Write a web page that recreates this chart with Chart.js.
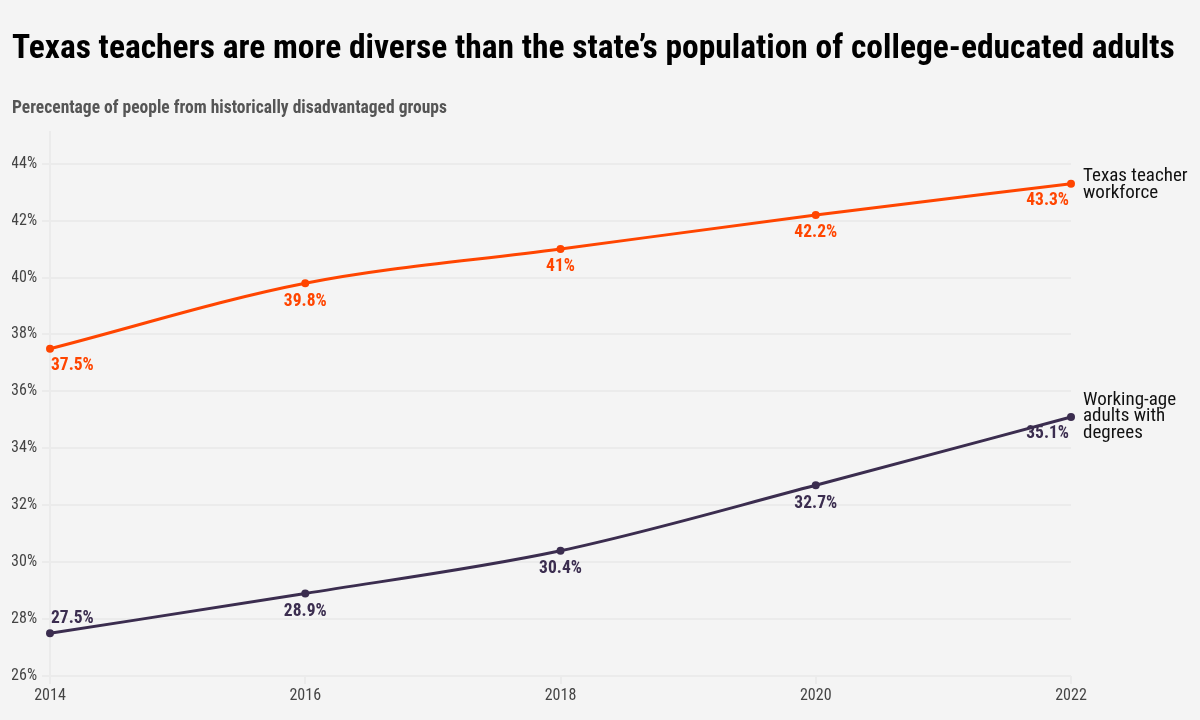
<!DOCTYPE html>
<html>
<head>
<meta charset="utf-8">
<script src="https://cdn.jsdelivr.net/npm/chart.js@4.4.1/dist/chart.umd.min.js"></script>
<style>
  html, body { margin: 0; padding: 0; background: #f4f4f4; }
  #wrap { width: 1200px; height: 720px; position: relative; }
</style>
</head>
<body>
<div id="wrap"><canvas id="c" width="1200" height="720"></canvas></div>
<script>
const years = ['2014', '2016', '2018', '2020', '2022'];
const teacherValues = [37.5, 39.8, 41, 42.2, 43.3];
const adultValues = [27.5, 28.9, 30.4, 32.7, 35.1];
const teacherName = ['Texas teacher', 'workforce'];
const adultName = ['Working-age', 'adults with', 'degrees'];
const titleText = 'Texas teachers are more diverse than the state\u2019s population of college-educated adults';
const subtitleText = 'Perecentage of people from historically disadvantaged groups';

const FONT = "'Roboto Condensed', 'Liberation Sans Narrow', 'Arial Narrow', sans-serif";
const ORANGE = '#ff4500';
const PURPLE = '#3b2d4f';

// label placements: 'below', 'below-right', 'below-left', 'above-right'
const teacherPlace = ['below-right', 'below', 'below', 'below', 'below-left'];
const adultPlace = ['above-right', 'below', 'below', 'below', 'below-left'];

const textPlugin = {
  id: 'texts',
  afterDraw(chart) {
    const ctx = chart.ctx;
    ctx.save();
    // title
    ctx.fillStyle = '#000';
    ctx.textBaseline = 'alphabetic';
    ctx.textAlign = 'left';
    ctx.font = `bold 33.5px ${FONT}`;
    ctx.fillText(titleText, 12, 58);
    ctx.fillStyle = '#555';
    ctx.font = `bold 17.5px ${FONT}`;
    ctx.fillText(subtitleText, 12, 113);

    // data labels
    const sets = [
      { idx: 0, vals: teacherValues, place: teacherPlace, color: ORANGE, name: teacherName, nameY: -7 },
      { idx: 1, vals: adultValues, place: adultPlace, color: PURPLE, name: adultName, nameY: -17 }
    ];
    sets.forEach(s => {
      const meta = chart.getDatasetMeta(s.idx);
      ctx.fillStyle = s.color;
      ctx.font = `bold 17.5px ${FONT}`;
      ctx.textBaseline = 'middle';
      meta.data.forEach((pt, i) => {
        const txt = s.vals[i] + '%';
        const p = s.place[i];
        let x = pt.x, y = pt.y;
        if (p === 'below') { ctx.textAlign = 'center'; y += 18; }
        else if (p === 'below-right') { ctx.textAlign = 'left'; x += 1; y += 17; }
        else if (p === 'below-left') { ctx.textAlign = 'right'; x -= 2; y += 17; }
        else if (p === 'above-right') { ctx.textAlign = 'left'; x += 1; y -= 15; }
        ctx.fillText(txt, x, y);
      });
      // series name at line end
      const last = meta.data[meta.data.length - 1];
      ctx.fillStyle = '#111';
      ctx.font = `19px ${FONT}`;
      ctx.textAlign = 'left';
      ctx.textBaseline = 'middle';
      s.name.forEach((line, k) => {
        ctx.fillText(line, last.x + 12, last.y + s.nameY + k * 16.5);
      });
    });
    ctx.restore();
  }
};

const bgPlugin = {
  id: 'bg',
  beforeDraw(chart) {
    const ctx = chart.ctx;
    ctx.save();
    ctx.fillStyle = '#f4f4f4';
    ctx.fillRect(0, 0, chart.width, chart.height);
    ctx.restore();
  }
};

new Chart(document.getElementById('c'), {
  type: 'line',
  data: {
    labels: years,
    datasets: [
      {
        label: 'Texas teacher workforce',
        data: teacherValues,
        borderColor: ORANGE,
        backgroundColor: ORANGE,
        borderWidth: 3,
        pointRadius: 4,
        pointBorderWidth: 0,
        pointHoverRadius: 4,
        cubicInterpolationMode: 'monotone'
      },
      {
        label: 'Working-age adults with degrees',
        data: adultValues,
        borderColor: PURPLE,
        backgroundColor: PURPLE,
        borderWidth: 3,
        pointRadius: 4,
        pointBorderWidth: 0,
        pointHoverRadius: 4,
        cubicInterpolationMode: 'monotone'
      }
    ]
  },
  options: {
    responsive: false,
    animation: false,
    devicePixelRatio: 1,
    layout: { padding: { top: 131, left: 12, right: 129, bottom: 0 } },
    plugins: { legend: { display: false }, tooltip: { enabled: false }, title: { display: false } },
    scales: {
      x: {
        offset: false,
        border: { display: false },
        grid: {
          color: c => c.index === 0 ? '#ebebeb' : 'rgba(0,0,0,0)',
          tickColor: '#ebebeb',
          tickLength: 8,
          lineWidth: 2
        },
        ticks: { color: '#444', font: { family: FONT, size: 16 }, padding: 2, maxRotation: 0 },
        afterFit(s) { s.height = 44; }
      },
      y: {
        min: 26,
        max: 45.15,
        border: { display: false },
        grid: { color: '#ebebeb', tickColor: '#ebebeb', tickLength: 8, lineWidth: 2 },
        ticks: {
          stepSize: 2,
          color: '#444',
          font: { family: FONT, size: 16 },
          padding: 5,
          callback: v => v + '%'
        },
        afterBuildTicks(s) { s.ticks = s.ticks.filter(t => Math.abs(t.value % 2) < 1e-9); },
        afterFit(s) { s.width = 38; }
      }
    }
  },
  plugins: [bgPlugin, textPlugin]
});
</script>
</body>
</html>
